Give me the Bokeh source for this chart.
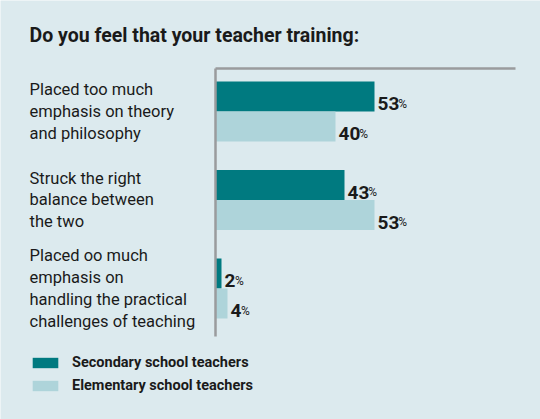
from bokeh.plotting import figure
from bokeh.models import ColumnDataSource, Range1d, Legend, LegendItem, Label
from bokeh.core.properties import value
from bokeh.embed import file_html
from bokeh.resources import INLINE

# ---- data ----
title_text = "Do you feel that your teacher training:"
categories = [
    "Placed too much\nemphasis on theory\nand philosophy",
    "Struck the right\nbalance between\nthe two",
    "Placed oo much\nemphasis on\nhandling the practical\nchallenges of teaching",
]
secondary = [53, 43, 2]
elementary = [40, 53, 4]
series_names = ["Secondary school teachers", "Elementary school teachers"]

# ---- style ----
BG = "#dceaee"
TEAL = "#007a80"
LIGHT = "#aed4da"
AXIS = "#9a9b9d"
TXT = "#1a1a1a"
FONT = "Roboto"

W, H = 540, 419
PX_PER_PCT = 3.0
ZERO_X = 215          # px of 0 %
GROUP_PX = 88.5       # px between groups
FIRST_GROUP_Y = 111   # px of first group centre
BAR_H = 30 / GROUP_PX

x_start = -ZERO_X / PX_PER_PCT
x_end = (W - ZERO_X) / PX_PER_PCT
y_top = -FIRST_GROUP_Y / GROUP_PX
y_bottom = (H - FIRST_GROUP_Y) / GROUP_PX

p = figure(width=W, height=H, output_backend="svg", toolbar_location=None,
           x_range=Range1d(x_start, x_end), y_range=Range1d(y_bottom, y_top),
           min_border=0, min_border_left=0, min_border_right=0,
           min_border_top=0, min_border_bottom=0)
p.axis.visible = False
p.grid.visible = False
p.outline_line_color = None
p.background_fill_color = BG
p.border_fill_color = BG

idx = list(range(len(categories)))
y_sec = [i - BAR_H / 2 for i in idx]
y_ele = [i + BAR_H / 2 for i in idx]

DIGIT_W = 10.4
src = ColumnDataSource(dict(
    y_sec=y_sec, y_ele=y_ele, sec=secondary, ele=elementary,
    sec_lbl=[str(v) for v in secondary], ele_lbl=[str(v) for v in elementary],
    sec_pct_off=[3 + DIGIT_W * len(str(v)) for v in secondary],
    ele_pct_off=[3 + DIGIT_W * len(str(v)) for v in elementary],
))

r_sec = p.hbar(y="y_sec", right="sec", left=0, height=BAR_H, color=TEAL,
               line_color=None, source=src)
r_ele = p.hbar(y="y_ele", right="ele", left=0, height=BAR_H, color=LIGHT,
               line_color=None, source=src)

# axis lines: vertical at 0 and top line from 0 to 100 %
line_top = y_top + 68 / GROUP_PX
line_bot = y_top + 336 / GROUP_PX
p.segment(x0=[0], y0=[line_top], x1=[0], y1=[line_bot], line_color=AXIS, line_width=2.5)
p.segment(x0=[0], y0=[line_top], x1=[100], y1=[line_top], line_color=AXIS, line_width=2.5)

# value labels
for ycol, xcol, lcol, ocol in (("y_sec", "sec", "sec_lbl", "sec_pct_off"),
                               ("y_ele", "ele", "ele_lbl", "ele_pct_off")):
    p.text(x=xcol, y=ycol, text=lcol, source=src, x_offset=3, y_offset=7,
           text_font=value(FONT), text_font_style="bold", text_font_size="19px",
           text_baseline="alphabetic", text_align="left", text_color=TXT)
    p.text(x=xcol, y=ycol, text=value("%"), source=src, x_offset=ocol, y_offset=7,
           text_font=value(FONT), text_font_size="12px",
           text_baseline="alphabetic", text_align="left", text_color=TXT)

# category labels
cat_src = ColumnDataSource(dict(y=idx, text=categories))
p.text(x=x_start + 29 / PX_PER_PCT, y="y", text="text", source=cat_src,
       text_font=value(FONT), text_font_size="16.5px", text_line_height=1.15,
       text_baseline="middle", text_align="left", text_color=TXT)

# title
p.add_layout(Label(x=29, y=H - 35, x_units="screen", y_units="screen",
                   text=title_text, text_font=FONT, text_font_style="bold",
                   text_font_size="19.5px", text_baseline="middle", text_color=TXT))

# legend
legend = Legend(items=[LegendItem(label=series_names[0], renderers=[r_sec]),
                       LegendItem(label=series_names[1], renderers=[r_ele])],
                location=(29, 25), orientation="vertical",
                glyph_width=32, glyph_height=13, label_standoff=11,
                spacing=6, padding=0, margin=0,
                border_line_color=None, background_fill_alpha=0,
                label_text_font=FONT, label_text_font_style="bold",
                label_text_font_size="14.5px", label_text_color=TXT,
                label_height=13)
p.add_layout(legend)

open("out.html", "w").write(file_html(p, INLINE))
